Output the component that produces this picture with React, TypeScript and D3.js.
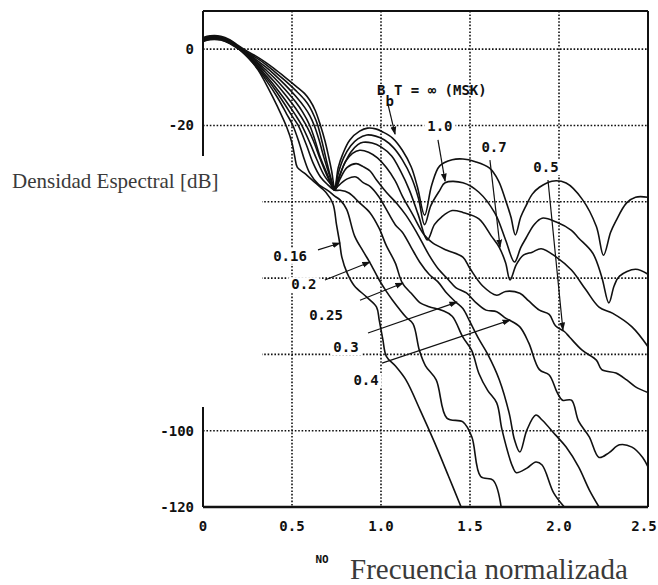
import React from "react";
import * as d3 from "d3";

const W = 658;
const H = 585;

const xTicks = [0, 0.5, 1.0, 1.5, 2.0, 2.5];
const xTickLabels = ["0", "0.5", "1.0", "1.5", "2.0", "2.5"];
const xGrid = [0.5, 1.0, 1.5, 2.0];
const yGrid = [0, -20, -40, -60, -80, -100];
const yTicks = [0, -20, -100, -120];
const yTickLabels = ["0", "-20", "-100", "-120"];

type P = [number, number];

const msk: P[] = [[0,3.0],[0.04,3.5],[0.1,3.4],[0.15,2.5],[0.2,0.9],[0.25,-0.6],[0.3,-1.9],[0.35,-3.4],[0.4,-5.1],[0.46,-7.3],[0.52,-9.6],[0.57,-11.6],[0.6,-13.4],[0.63,-16],[0.66,-20],[0.685,-24],[0.705,-28],[0.723,-32],[0.74,-36.5],[0.76,-31],[0.785,-27.5],[0.825,-23.8],[0.88,-21.5],[0.925,-20.7],[0.97,-20.9],[1.01,-21.7],[1.065,-23.3],[1.12,-26.5],[1.17,-30.9],[1.205,-36.2],[1.245,-43.5],[1.285,-35.6],[1.33,-30.6],[1.4,-29],[1.46,-28.8],[1.53,-29.5],[1.61,-31.2],[1.66,-34.5],[1.7,-39.6],[1.73,-44],[1.755,-48.7],[1.785,-44],[1.815,-41],[1.85,-38],[1.89,-36.2],[1.96,-34.6],[2.04,-35.1],[2.13,-39.3],[2.21,-46.5],[2.25,-54],[2.29,-48],[2.32,-45],[2.38,-40.3],[2.43,-38.8],[2.5,-38.8]];

const b10: P[] = [[0,2.8],[0.04,3.3],[0.1,3.2],[0.15,2.3],[0.2,0.7],[0.25,-0.9],[0.3,-2.3],[0.35,-3.9],[0.4,-5.8],[0.46,-8.2],[0.52,-10.8],[0.57,-13.2],[0.6,-15.2],[0.625,-17.6],[0.645,-20],[0.67,-24.5],[0.695,-29.5],[0.72,-34],[0.74,-36.5],[0.76,-32.5],[0.79,-28.5],[0.83,-25.3],[0.87,-23.5],[0.92,-22.5],[0.97,-22.8],[1.02,-23.8],[1.07,-25.8],[1.12,-29],[1.17,-33.5],[1.21,-39],[1.245,-46],[1.28,-41],[1.33,-37],[1.36,-35],[1.46,-35],[1.55,-37.5],[1.64,-43],[1.7,-50],[1.75,-55.8],[1.785,-52],[1.815,-49.5],[1.86,-46],[1.905,-44.3],[1.985,-45.3],[2.07,-47.5],[2.11,-49.5],[2.19,-53.5],[2.24,-59.7],[2.28,-66.5],[2.31,-62],[2.34,-59.5],[2.43,-57.7],[2.5,-59]];

const b07: P[] = [[0,2.6],[0.04,3.1],[0.1,3.0],[0.15,2.1],[0.2,0.6],[0.25,-1.1],[0.3,-2.8],[0.35,-4.6],[0.4,-6.6],[0.46,-9.3],[0.52,-12.3],[0.57,-15.2],[0.6,-17.4],[0.625,-20],[0.65,-23.5],[0.68,-28.5],[0.71,-33],[0.74,-37],[0.76,-34],[0.79,-30.5],[0.83,-27],[0.87,-25],[0.9,-24.4],[0.95,-24.6],[1.0,-25.6],[1.06,-28],[1.11,-32],[1.16,-37],[1.21,-43.5],[1.26,-50],[1.3,-46],[1.34,-44],[1.4,-42.3],[1.46,-42.8],[1.55,-44.5],[1.62,-49],[1.665,-52],[1.7,-56],[1.725,-60.5],[1.76,-56.5],[1.8,-54],[1.85,-53.2],[1.9,-52.3],[1.985,-54.5],[2.07,-57.9],[2.15,-63],[2.225,-67.6],[2.3,-69.2],[2.41,-72.8],[2.5,-78]];

const b05: P[] = [[0,2.5],[0.04,3.0],[0.1,2.9],[0.15,2.0],[0.2,0.5],[0.25,-1.3],[0.3,-3.2],[0.35,-5.3],[0.4,-7.5],[0.46,-10.5],[0.52,-13.8],[0.56,-16.5],[0.6,-20],[0.63,-24],[0.66,-28.5],[0.7,-33],[0.74,-37],[0.77,-33],[0.8,-29.5],[0.84,-27.3],[0.88,-26.5],[0.93,-27],[0.98,-28.5],[1.03,-31],[1.08,-34.5],[1.12,-38.5],[1.18,-43.5],[1.24,-48.5],[1.29,-50.8],[1.37,-52.7],[1.46,-54.5],[1.5,-57.5],[1.57,-62],[1.65,-64.5],[1.7,-63.5],[1.78,-64],[1.83,-66],[1.89,-68.4],[1.945,-69.5],[1.98,-72.5],[2.03,-74],[2.06,-75.5],[2.13,-78.9],[2.21,-81.5],[2.24,-84],[2.32,-84.9],[2.38,-86.7],[2.43,-88.5],[2.5,-90]];

const b04: P[] = [[0,2.4],[0.04,2.9],[0.1,2.8],[0.15,1.9],[0.2,0.4],[0.25,-1.5],[0.3,-3.6],[0.35,-6],[0.4,-8.5],[0.46,-11.8],[0.52,-15.5],[0.58,-20],[0.62,-24],[0.66,-29],[0.7,-33.5],[0.74,-37],[0.77,-34],[0.81,-31],[0.86,-30],[0.9,-30.8],[0.94,-32],[0.975,-34.3],[1.03,-37.5],[1.09,-40.5],[1.14,-43.5],[1.2,-48],[1.27,-54],[1.32,-57.5],[1.38,-60.5],[1.42,-62.5],[1.48,-63.9],[1.535,-66.5],[1.59,-68.4],[1.65,-68.8],[1.7,-70.5],[1.72,-71],[1.78,-72.8],[1.83,-77],[1.89,-84],[1.945,-85.4],[1.99,-90],[2.02,-92],[2.07,-92],[2.11,-97.5],[2.17,-101.6],[2.225,-107],[2.28,-105.8],[2.34,-103.7],[2.41,-104.3],[2.47,-107],[2.5,-109.5]];

const b03: P[] = [[0,2.3],[0.04,2.8],[0.1,2.7],[0.15,1.8],[0.2,0.3],[0.25,-1.7],[0.3,-4],[0.35,-6.7],[0.4,-9.5],[0.46,-13.2],[0.52,-17.3],[0.555,-20],[0.6,-24.5],[0.64,-29],[0.68,-33],[0.72,-35.5],[0.74,-36.5],[0.78,-35],[0.81,-34],[0.86,-33.5],[0.9,-35],[0.94,-36],[0.99,-38.8],[1.03,-42],[1.08,-46],[1.12,-48],[1.17,-52],[1.22,-56],[1.27,-59],[1.32,-61],[1.37,-64],[1.42,-66.3],[1.46,-68],[1.5,-71.5],[1.55,-76],[1.6,-80],[1.665,-86.7],[1.72,-95.4],[1.75,-102.4],[1.78,-105.6],[1.82,-99.8],[1.87,-95.9],[1.905,-97.2],[1.98,-101.1],[2.04,-104.3],[2.11,-109.5],[2.17,-115.5],[2.225,-120]];

const b025: P[] = [[0,2.2],[0.04,2.7],[0.1,2.6],[0.15,1.7],[0.2,0.2],[0.25,-1.9],[0.3,-4.3],[0.35,-7.2],[0.4,-10.3],[0.46,-14.5],[0.5,-17.5],[0.535,-20],[0.58,-25],[0.62,-30],[0.66,-33.5],[0.7,-35.5],[0.74,-37],[0.77,-37],[0.82,-37.7],[0.88,-40.3],[0.94,-43],[0.99,-47],[1.03,-51.5],[1.08,-56],[1.12,-61.3],[1.17,-64],[1.22,-66.5],[1.27,-67.5],[1.345,-68.5],[1.4,-70],[1.46,-75.5],[1.51,-79],[1.55,-85],[1.6,-89.5],[1.65,-92.7],[1.68,-99.8],[1.74,-109.5],[1.76,-111],[1.82,-109.8],[1.87,-108.2],[1.905,-109],[1.97,-116.3],[2.03,-120]];

const b02: P[] = [[0,2.1],[0.04,2.6],[0.1,2.5],[0.15,1.6],[0.2,0.1],[0.25,-2.1],[0.3,-4.7],[0.36,-8.5],[0.42,-12.8],[0.47,-17],[0.505,-20],[0.54,-24.5],[0.57,-29],[0.6,-32.5],[0.65,-35.5],[0.7,-37],[0.74,-38.5],[0.77,-39.5],[0.807,-42],[0.852,-49],[0.9,-53],[0.936,-55.8],[0.99,-60.5],[1.03,-63.5],[1.065,-65.8],[1.14,-70.2],[1.18,-72],[1.216,-79],[1.25,-83],[1.31,-86.7],[1.37,-96.7],[1.46,-97.7],[1.51,-101.6],[1.56,-112],[1.63,-113],[1.675,-120]];

const b016: P[] = [[0,2.0],[0.04,2.5],[0.1,2.4],[0.15,1.5],[0.2,0],[0.235,-1],[0.27,-3],[0.31,-5.5],[0.364,-10],[0.42,-15.2],[0.47,-20.4],[0.5,-24.6],[0.516,-28.3],[0.53,-31],[0.57,-32.5],[0.63,-35],[0.69,-37.5],[0.73,-40.5],[0.75,-46],[0.768,-50.8],[0.78,-54.5],[0.81,-58.7],[0.85,-62],[0.92,-65],[0.975,-67.6],[0.99,-71],[1.01,-76],[1.03,-80.5],[1.08,-83],[1.14,-86.7],[1.22,-94.6],[1.3,-103],[1.38,-112],[1.45,-120]];

const series: P[][] = [msk, b10, b07, b05, b04, b03, b025, b02, b016];

// annotation labels: text, anchor (f, dB)
const labelTexts = ["1.0", "0.7", "0.5", "0.16", "0.2", "0.25", "0.3", "0.4"];
const labelPos: P[] = [[1.331, -21.5], [1.635, -27], [1.927, -32.2], [0.489, -55.5], [0.567, -62.9], [0.691, -71], [0.803, -79.4], [0.916, -88]];
// arrows: from (f, dB) to (f, dB)
const arrowFrom: P[] = [[1.039, -14.4], [1.32, -23.8], [1.612, -29.1], [1.938, -34.3], [0.646, -52.6], [0.685, -60.5], [0.882, -65.8], [0.927, -74.4], [1.006, -82.3]];
const arrowTo: P[] = [[1.079, -22.3], [1.36, -34.6], [1.669, -51.9], [2.022, -73.6], [0.77, -50.8], [0.938, -55.8], [1.124, -61.3], [1.427, -66.3], [1.725, -71]];
const titlePos: P = [0.978, -12.0];

const MONO = "'DejaVu Sans Mono', 'Liberation Mono', monospace";
const SERIF = "'Liberation Serif', 'DejaVu Serif', serif";

export default function App() {
  const x = d3.scaleLinear().domain([0, 2.5]).range([203, 648]);
  const y = d3.scaleLinear().domain([10, -120]).range([11, 507]);
  const line = d3
    .line<P>()
    .x((d) => x(d[0]))
    .y((d) => y(d[1]))
    .curve(d3.curveCatmullRom.alpha(0.5));

  const [x0, x1] = x.range();
  const [y0, y1] = y.range();

  return (
    <svg
      width={W}
      height={H}
      viewBox={`0 0 ${W} ${H}`}
      style={{ position: "absolute", left: 0, top: 0, background: "#fff" }}
    >
      <defs>
        <clipPath id="plotclip">
          <rect x={x0} y={y0} width={x1 - x0} height={y1 - y0} />
        </clipPath>
        <marker id="arr" viewBox="0 0 10 10" refX="9" refY="5" markerWidth="7" markerHeight="7" orient="auto">
          <path d="M0,1.5 L10,5 L0,8.5 Z" fill="#111" />
        </marker>
      </defs>
      <rect x={0} y={0} width={W} height={H} fill="#fff" />

      {/* grid */}
      {yGrid.map((v) => (
        <line key={"gy" + v} x1={x0} x2={x1} y1={y(v)} y2={y(v)} stroke="#111" strokeWidth={1.6} strokeDasharray="1.6,1.8" />
      ))}
      {xGrid.map((v) => (
        <line key={"gx" + v} x1={x(v)} x2={x(v)} y1={y0} y2={y1} stroke="#111" strokeWidth={1.6} strokeDasharray="1.6,1.8" />
      ))}

      {/* frame */}
      <line x1={x0} x2={x1} y1={y0} y2={y0} stroke="#111" strokeWidth={2} />
      <line x1={x0} x2={x1} y1={y1} y2={y1} stroke="#111" strokeWidth={2.4} />
      <line x1={x1} x2={x1} y1={y0} y2={y1} stroke="#111" strokeWidth={2} />
      <line x1={x0} x2={x0} y1={y0} y2={y1} stroke="#111" strokeWidth={2} />

      {/* blank region left of plot (covered in the original) */}
      <rect x={190} y={156} width={72} height={251} fill="#fff" />

      {/* curves */}
      <g clipPath="url(#plotclip)">
        {series.map((s, i) => (
          <path key={"s" + i} d={line(s) || ""} fill="none" stroke="#111" strokeWidth={1.6} strokeLinejoin="round" />
        ))}
      </g>

      {/* label backgrounds for gaps */}
      {labelTexts.map((t, i) => (
        <rect
          key={"lb" + i}
          x={x(labelPos[i][0]) - t.length * 4.2 - 3}
          y={y(labelPos[i][1]) - 12}
          width={t.length * 8.4 + 6}
          height={15}
          fill="#fff"
        />
      ))}

      {/* arrows */}
      {arrowFrom.map((a, i) => (
        <line
          key={"ar" + i}
          x1={x(a[0])}
          y1={y(a[1])}
          x2={x(arrowTo[i][0])}
          y2={y(arrowTo[i][1])}
          stroke="#111"
          strokeWidth={1.2}
          markerEnd="url(#arr)"
        />
      ))}

      {/* labels */}
      {labelTexts.map((t, i) => (
        <text key={"lt" + i} x={x(labelPos[i][0])} y={y(labelPos[i][1])} textAnchor="middle" fontFamily={MONO} fontWeight="bold" fontSize={14} fill="#111">
          {t}
        </text>
      ))}
      <text x={x(titlePos[0])} y={y(titlePos[1])} fontFamily={MONO} fontWeight="bold" fontSize={14} fill="#111">
        B
        <tspan dy={11}>b</tspan>
        <tspan dy={-11}>T = ∞ (MSK)</tspan>
      </text>

      {/* tick labels */}
      {xTicks.map((v, i) => (
        <text key={"xt" + v} x={Math.min(x(v), W - 14)} y={y1 + 24} textAnchor="middle" fontFamily={MONO} fontWeight="bold" fontSize={14} fill="#111">
          {xTickLabels[i]}
        </text>
      ))}
      {yTicks.map((v, i) => (
        <text key={"yt" + v} x={x0 - 9} y={y(v) + 5} textAnchor="end" fontFamily={MONO} fontWeight="bold" fontSize={14} fill="#111">
          {yTickLabels[i]}
        </text>
      ))}

      <text x={322} y={563} textAnchor="middle" fontFamily={MONO} fontWeight="bold" fontSize={11} fill="#111">
        NO
      </text>
      <text x={350} y={579} fontFamily={SERIF} fontSize={29} fill="#3a3a3a">
        Frecuencia normalizada
      </text>
      <text x={12} y={188} fontFamily={SERIF} fontSize={21} fill="#3a3a3a">
        Densidad Espectral [dB]
      </text>
    </svg>
  );
}
